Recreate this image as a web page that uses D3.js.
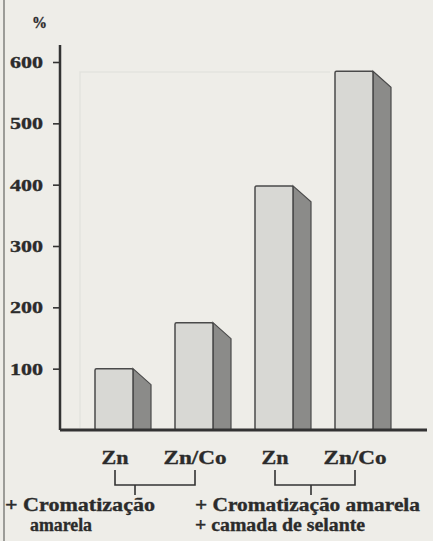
<!DOCTYPE html>
<html>
<head>
<meta charset="utf-8">
<script src="https://cdn.jsdelivr.net/npm/d3@7"></script>
<style>
  html, body { margin: 0; padding: 0; background: #eeede8; }
  svg { display: block; }
  text { font-family: "Liberation Serif", "Times New Roman", serif; font-weight: bold; fill: #2b2b2b; stroke: #2b2b2b; stroke-width: 0.35; }
</style>
</head>
<body>
<svg id="chart" width="433" height="541"></svg>
<script>
// Corrosion resistance relative to plain zinc (%)
const categories = ["Zn", "Zn/Co", "Zn", "Zn/Co"];
const values = [100, 175, 398, 585];
const yTicks = [100, 200, 300, 400, 500, 600];
const groupNotes = [
  ["+ Cromatização", "amarela"],
  ["+ Cromatização amarela", "+ camada de selante"]
];

const svg = d3.select("#chart");
const W = 433, H = 541;

const y = d3.scaleLinear().domain([0, 600]).range([430, 62]);
const x = d3.scaleBand()
  .domain(d3.range(categories.length))
  .range([95, 373])
  .paddingInner(0.525)
  .paddingOuter(0);
const bw = x.bandwidth();
const depthX = 18, depthY = 16;
const axisX = 60;

// left edge rule
svg.append("line")
  .attr("x1", 4).attr("x2", 4).attr("y1", 0).attr("y2", H)
  .attr("stroke", "#9c9c98").attr("stroke-width", 2);

// faint back wall
svg.append("path")
  .attr("d", `M80,${y(0) - 2}V72H330`)
  .attr("fill", "none").attr("stroke", "#e3e3de").attr("stroke-width", 1.5);

// bars: side face then front face
const bars = svg.append("g");
values.forEach((v, i) => {
  const x0 = x(i), x1 = x(i) + bw, top = y(v), base = y(0);
  bars.append("path")
    .attr("d", `M${x1},${top}L${x1 + depthX},${top + depthY}L${x1 + depthX},${base}L${x1},${base}Z`)
    .attr("fill", "#8b8b89").attr("stroke", "#4a4a4a").attr("stroke-width", 1.2);
  bars.append("rect")
    .attr("x", x0).attr("y", top).attr("width", bw).attr("height", base - top)
    .attr("rx", 1.5)
    .attr("fill", "#d8d8d4").attr("stroke", "#4a4a4a").attr("stroke-width", 1.5);
});

// y axis
const yAxis = d3.axisLeft(y).tickValues(yTicks).tickSize(7).tickPadding(10).tickSizeOuter(0);
const gy = svg.append("g").attr("transform", `translate(${axisX},0)`).call(yAxis);
gy.select(".domain").remove();
gy.selectAll(".tick line").attr("stroke", "#333").attr("stroke-width", 1.6);
gy.selectAll(".tick text")
  .attr("font-size", 17)
  .attr("textLength", 33).attr("lengthAdjust", "spacingAndGlyphs")
  .attr("fill", "#2b2b2b")
  .attr("font-family", "Liberation Serif, serif")
  .attr("font-weight", "bold");
svg.append("line")
  .attr("x1", axisX).attr("x2", axisX).attr("y1", 45).attr("y2", y(0))
  .attr("stroke", "#333").attr("stroke-width", 2.5);

// unit label
svg.append("text").attr("x", 32).attr("y", 28)
  .attr("font-size", 16).attr("textLength", 15).attr("lengthAdjust", "spacingAndGlyphs")
  .text("%");

// x baseline
svg.append("line")
  .attr("x1", axisX).attr("x2", 427).attr("y1", y(0)).attr("y2", y(0))
  .attr("stroke", "#333").attr("stroke-width", 3);

// category labels
const labelLen = { "Zn": 27, "Zn/Co": 63 };
const centers = categories.map((c, i) => x(i) + bw / 2 + 1);
svg.append("g").selectAll("text").data(categories).join("text")
  .attr("x", (d, i) => centers[i]).attr("y", 464)
  .attr("text-anchor", "middle")
  .attr("font-size", 19)
  .attr("textLength", d => labelLen[d]).attr("lengthAdjust", "spacingAndGlyphs")
  .text(d => d);

// group brackets
const bracketTick = [0.25, 0.45];
[[0, 1], [2, 3]].forEach(([a, b], k) => {
  const xa = centers[a], xb = centers[b];
  const xm = xa + (xb - xa) * bracketTick[k];
  svg.append("path")
    .attr("d", `M${xa},470V485H${xb}V470M${xm},485V495`)
    .attr("fill", "none").attr("stroke", "#333").attr("stroke-width", 1.6);
});

// group notes
const notePos = [
  [{ x: 5, y: 511, len: 150 }, { x: 30, y: 531, len: 62 }],
  [{ x: 195, y: 511, len: 225 }, { x: 195, y: 531, len: 170 }]
];
groupNotes.forEach((lines, k) => {
  lines.forEach((t, j) => {
    const p = notePos[k][j];
    svg.append("text")
      .attr("x", p.x).attr("y", p.y)
      .attr("font-size", 19)
      .attr("textLength", p.len).attr("lengthAdjust", "spacingAndGlyphs")
      .text(t);
  });
});
</script>
</body>
</html>
